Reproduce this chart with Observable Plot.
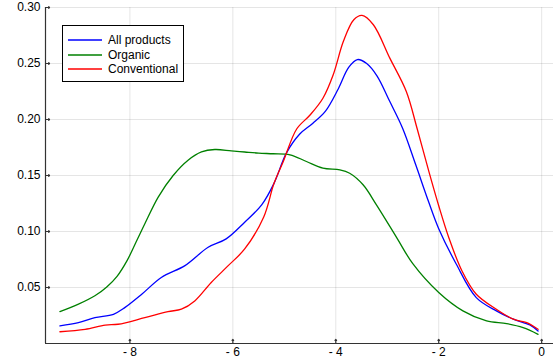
<!DOCTYPE html>
<html>
<head>
<meta charset="utf-8">
<script src="https://cdn.jsdelivr.net/npm/d3@7"></script>
<script src="https://cdn.jsdelivr.net/npm/@observablehq/plot@0.6"></script>
<style>
  body { margin: 0; background: #fff; }
  #wrap { position: relative; width: 558px; height: 362px; font-family: "Liberation Sans", Arial, sans-serif; }
  #legend { position: absolute; left: 62px; top: 25px; width: 120px; height: 55px; border: 1px solid #000; background: #fff; font-size: 12px; color: #000; }
  #legend .row { position: absolute; left: 5px; width: 112px; height: 14px; display: flex; align-items: center; white-space: nowrap; }
  #legend svg { flex: 0 0 auto; margin-right: 6px; }
</style>
</head>
<body>
<div id="wrap"></div>
<script>
const series = ["All products", "Organic", "Conventional"];
const colors = ["#0000ff", "#008000", "#ff0000"];

const allX = [-9.36,-9.00,-8.68,-8.32,-8.10,-7.77,-7.39,-6.93,-6.48,-6.13,-5.77,-5.44,-5.20,-4.96,-4.70,-4.45,-4.20,-3.95,-3.75,-3.58,-3.40,-3.20,-2.95,-2.70,-2.45,-2.20,-2.00,-1.66,-1.27,-0.88,-0.55,-0.23,-0.07];
const allY = [0.0157,0.0186,0.0231,0.0261,0.0320,0.0440,0.0590,0.0695,0.0859,0.0934,0.1083,0.1238,0.1430,0.1700,0.1870,0.1965,0.2075,0.2275,0.2465,0.2535,0.2500,0.2390,0.2160,0.1920,0.1600,0.1270,0.1025,0.0710,0.0410,0.0291,0.0217,0.0166,0.0112];

const orgX = [-9.36,-9.00,-8.68,-8.45,-8.25,-8.05,-7.85,-7.71,-7.45,-7.16,-6.87,-6.61,-6.35,-6.03,-5.77,-5.50,-5.22,-4.89,-4.57,-4.25,-3.92,-3.73,-3.47,-3.21,-2.82,-2.50,-2.00,-1.53,-1.07,-0.68,-0.36,-0.07];
const orgY = [0.0285,0.0351,0.0426,0.0505,0.0600,0.0745,0.0935,0.1069,0.1307,0.1500,0.1636,0.1710,0.1732,0.1720,0.1710,0.1700,0.1694,0.1685,0.1625,0.1566,0.1550,0.1520,0.1417,0.1238,0.0948,0.0710,0.0455,0.0291,0.0201,0.0177,0.0141,0.0082];

const conX = [-9.36,-8.87,-8.48,-8.23,-7.71,-7.26,-7.00,-6.74,-6.42,-6.09,-5.77,-5.40,-5.20,-5.02,-4.76,-4.50,-4.25,-4.05,-3.85,-3.65,-3.49,-3.27,-2.95,-2.63,-2.42,-2.20,-2.00,-1.80,-1.55,-1.27,-0.88,-0.55,-0.29,-0.07];
const conY = [0.0105,0.0127,0.0165,0.0172,0.0231,0.0285,0.0306,0.0380,0.0545,0.0695,0.0844,0.1130,0.1430,0.1625,0.1915,0.2040,0.2190,0.2400,0.2700,0.2890,0.2929,0.2846,0.2548,0.2250,0.1920,0.1550,0.1230,0.0940,0.0650,0.0440,0.0306,0.0217,0.0186,0.0127];

const xTicks = [-8, -6, -4, -2, 0];
const xTickLabels = ["- 8", "- 6", "- 4", "- 2", "0"];
const yTicks = [0.05, 0.10, 0.15, 0.20, 0.25, 0.30];
const yTickLabels = ["0.05", "0.10", "0.15", "0.20", "0.25", "0.30"];

const xDomain = [-9.64, 0.23];
const yDomain = [0, 0.30];

const rows = [];
[[allX, allY, 0], [orgX, orgY, 1], [conX, conY, 2]].forEach(([xs, ys, k]) => {
  xs.forEach((x, i) => rows.push({series: series[k], x, y: ys[i]}));
});

const plot = Plot.plot({
  width: 558,
  height: 362,
  marginLeft: 45,
  marginRight: 5,
  marginTop: 7,
  marginBottom: 19,
  style: {fontFamily: "'Liberation Sans', Arial, sans-serif", fontSize: "12px", color: "#000", background: "#fff"},
  x: {domain: xDomain},
  y: {domain: yDomain},
  color: {domain: series, range: colors},
  marks: [
    Plot.ruleX(xTicks, {stroke: "#000", strokeOpacity: 0.1, strokeWidth: 1}),
    Plot.ruleY(yTicks, {stroke: "#000", strokeOpacity: 0.1, strokeWidth: 1}),
    Plot.line(rows, {x: "x", y: "y", z: "series", stroke: "series", strokeWidth: 1.3, curve: "catmull-rom"}),
    Plot.ruleX([xDomain[0]], {stroke: "#333", strokeWidth: 1.2}),
    Plot.ruleY([yDomain[0]], {stroke: "#333", strokeWidth: 1.2}),
    Plot.vector(yTicks, {x: xDomain[0], y: d => d, length: 4, rotate: 90, anchor: "start", stroke: "#333", strokeWidth: 1.2}),
    Plot.vector(xTicks, {x: d => d, y: yDomain[0], length: 4, rotate: 0, anchor: "start", stroke: "#333", strokeWidth: 1.2}),
    Plot.axisY(yTicks, {tickSize: 0, tickPadding: 5, tickFormat: (d, i) => yTickLabels[i], fontSize: 12, label: null}),
    Plot.axisX(xTicks, {tickSize: 0, tickPadding: 4, tickFormat: (d, i) => xTickLabels[i], fontSize: 12, label: null})
  ]
});

const wrap = document.getElementById("wrap");
wrap.appendChild(plot);

const legend = document.createElement("div");
legend.id = "legend";
series.forEach((s, i) => {
  const row = document.createElement("div");
  row.className = "row";
  row.style.top = (7 + i * 14.5) + "px";
  const ns = "http://www.w3.org/2000/svg";
  const sw = document.createElementNS(ns, "svg");
  sw.setAttribute("width", "34");
  sw.setAttribute("height", "4");
  const ln = document.createElementNS(ns, "line");
  ln.setAttribute("x1", "0"); ln.setAttribute("x2", "34");
  ln.setAttribute("y1", "2"); ln.setAttribute("y2", "2");
  ln.setAttribute("stroke", colors[i]);
  ln.setAttribute("stroke-width", "1.4");
  sw.appendChild(ln);
  const t = document.createElement("span");
  t.textContent = s;
  row.appendChild(sw);
  row.appendChild(t);
  legend.appendChild(row);
});
wrap.appendChild(legend);
</script>
</body>
</html>
